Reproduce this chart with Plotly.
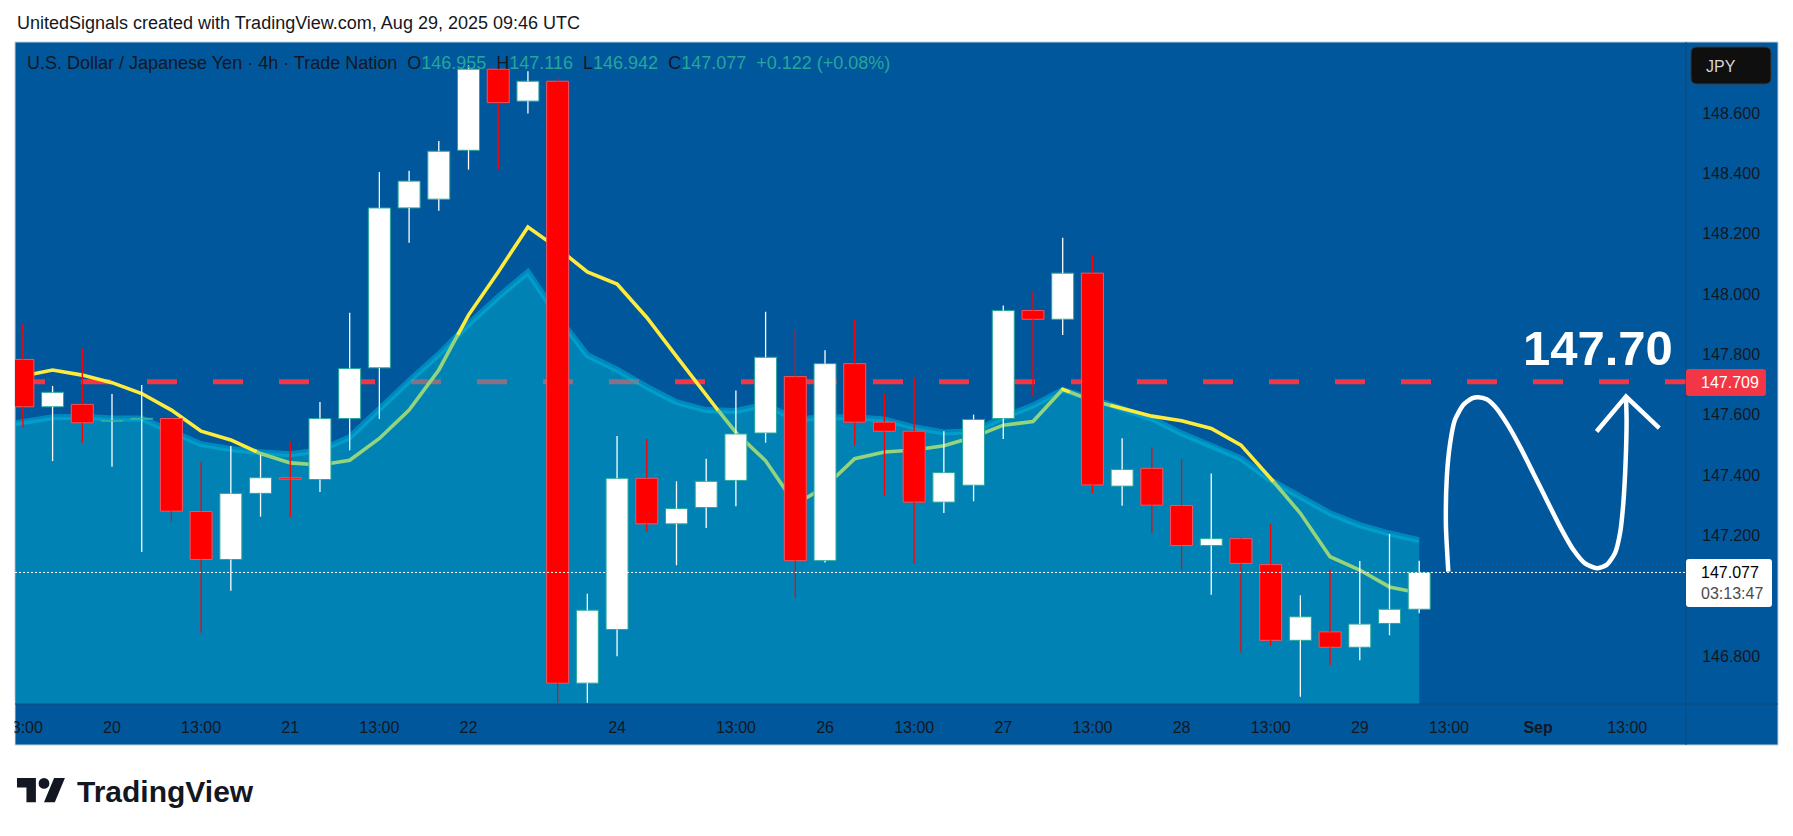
import plotly.graph_objects as go

# ---------------------------------------------------------------- data
# bar index: 0 = Aug 20 01:00 UTC (4h bars, weekend gap Aug 22 17:00 -> Aug 24 21:00)
FIRST_BAR = -3
OPEN = [147.783, 147.626, 147.634, 147.578, 147.585, 147.587, 147.279, 147.120, 147.339, 147.391,
        147.385, 147.587, 147.755, 148.285, 148.314, 148.476, 148.745, 148.639, 148.705, 146.710,
        146.888, 147.389, 147.238, 147.292, 147.382, 147.539, 147.726, 147.116, 147.769, 147.575,
        147.545, 147.310, 147.366, 147.587, 147.945, 147.916, 148.069, 147.363, 147.422, 147.299,
        147.166, 147.189, 147.103, 146.852, 146.880, 146.829, 146.908, 146.955]
HIGH = [147.900, 147.695, 147.819, 147.668, 147.698, 147.595, 147.443, 147.496, 147.466, 147.509,
        147.642, 147.938, 148.404, 148.408, 148.507, 148.758, 148.778, 148.738, 148.719, 147.006,
        147.529, 147.519, 147.379, 147.454, 147.680, 147.941, 147.882, 147.813, 147.915, 147.670,
        147.723, 147.545, 147.600, 147.962, 148.008, 148.186, 148.130, 147.522, 147.492, 147.453,
        147.405, 147.192, 147.237, 147.001, 147.087, 147.115, 147.204, 147.116]
LOW = [147.557, 147.446, 147.507, 147.427, 147.145, 147.245, 146.877, 147.016, 147.262, 147.260,
       147.344, 147.482, 147.586, 148.170, 148.276, 148.412, 148.412, 148.598, 146.645, 146.645,
       146.799, 147.212, 147.101, 147.224, 147.296, 147.507, 146.993, 147.110, 147.499, 147.332,
       147.106, 147.274, 147.313, 147.519, 147.660, 147.864, 147.340, 147.298, 147.208, 147.087,
       147.003, 146.812, 146.835, 146.665, 146.770, 146.786, 146.869, 146.942]
CLOSE = [147.626, 147.674, 147.573, 147.581, 147.588, 147.280, 147.120, 147.339, 147.391, 147.386,
         147.587, 147.753, 148.285, 148.374, 148.473, 148.745, 148.634, 148.705, 146.710, 146.952,
         147.389, 147.238, 147.289, 147.379, 147.536, 147.790, 147.116, 147.769, 147.575, 147.545,
         147.310, 147.408, 147.584, 147.945, 147.916, 148.069, 147.367, 147.418, 147.300, 147.166,
         147.189, 147.107, 146.852, 146.930, 146.829, 146.906, 146.955, 147.077]

LINE_START = -4
BAND_LINE = [147.560, 147.578, 147.591, 147.593, 147.587, 147.587, 147.543, 147.502, 147.486, 147.475,
             147.469, 147.482, 147.525, 147.620, 147.712, 147.800, 147.900, 147.990, 148.073, 147.925,
             147.797, 147.749, 147.692, 147.641, 147.615, 147.612, 147.634, 147.584, 147.591, 147.591,
             147.584, 147.558, 147.541, 147.545, 147.591, 147.630, 147.682, 147.652, 147.617, 147.587,
             147.538, 147.499, 147.455, 147.383, 147.328, 147.273, 147.234, 147.206, 147.184]
EMA_LINE = [147.700, 147.728, 147.748, 147.731, 147.706, 147.670, 147.615, 147.545, 147.516, 147.471,
            147.440, 147.433, 147.449, 147.521, 147.615, 147.748, 147.930, 148.073, 148.222, 148.152,
            148.073, 148.033, 147.922, 147.793, 147.663, 147.541, 147.447, 147.303, 147.361, 147.454,
            147.476, 147.483, 147.497, 147.526, 147.565, 147.577, 147.684, 147.646, 147.621, 147.595,
            147.580, 147.554, 147.499, 147.389, 147.273, 147.129, 147.085, 147.029, 147.009]

X_TICK_POS = [-3, 0, 3, 6, 9, 12, 17, 21, 24, 27, 30, 33, 36, 39, 42, 45, 48, 51]
X_TICK_TEXT = ["13:00", "20", "13:00", "21", "13:00", "22", "24", "13:00", "26", "13:00",
               "27", "13:00", "28", "13:00", "29", "13:00", "<b>Sep</b>", "13:00"]
Y_TICKS = [146.8, 147.2, 147.4, 147.6, 147.8, 148.0, 148.2, 148.4, 148.6]

TARGET = 147.709
TARGET_TEXT = "147.70"
COUNTDOWN = "03:13:47"
SYMBOL = "U.S. Dollar / Japanese Yen · 4h · Trade Nation"
HEADER = "UnitedSignals created with TradingView.com, Aug 29, 2025 09:46 UTC"

# hand-drawn path (bar index, price)
DRAW_X = [44.98, 44.90, 44.93, 45.04, 45.20, 45.48, 45.77, 45.99, 46.27, 46.55, 46.95, 47.39, 47.84,
          48.29, 48.74, 49.19, 49.58, 49.98, 50.31, 50.59, 50.76, 50.87, 50.95, 50.98, 50.96]
DRAW_Y = [147.080, 147.229, 147.395, 147.505, 147.582, 147.632, 147.654, 147.658, 147.651, 147.627,
          147.571, 147.494, 147.406, 147.317, 147.229, 147.152, 147.107, 147.091, 147.102, 147.141,
          147.207, 147.306, 147.450, 147.582, 147.660]
ARROW_X = [49.97, 50.96, 52.08]
ARROW_Y = [147.544, 147.660, 147.555]

# ---------------------------------------------------------------- style / geometry
W, H = 1793, 836
PL, PR, PT, PB = 15, 1686, 42, 704
X_RANGE = [-3.265, 52.98]
Y_RANGE = [146.641, 148.835]
BG = "#01579B"
FONT = "Liberation Sans, Arial, sans-serif"
TXT = "#131722"
TEAL = "#26A69A"
UP_BODY, UP_EDGE, UP_WICK = "#FFFFFF", "#26A69A", "#FFFFFF"
DN_BODY, DN_EDGE, DN_WICK = "#FF0000", "#F7525F", "#FF0000"
YELLOW, GREEN = "#FFEB3B", "#93D47C"


def px(x):
    return (x - PL) / (PR - PL)


def py(y):
    return (PB - y) / (PB - PT)


def P(x, y):
    return f"{px(x):.6f},{py(y):.6f}"


def rrect(x0, y0, x1, y1, r):
    return (f"M{P(x0 + r, y0)} L{P(x1 - r, y0)} Q{P(x1, y0)} {P(x1, y0 + r)} "
            f"L{P(x1, y1 - r)} Q{P(x1, y1)} {P(x1 - r, y1)} L{P(x0 + r, y1)} "
            f"Q{P(x0, y1)} {P(x0, y1 - r)} L{P(x0, y0 + r)} Q{P(x0, y0)} {P(x0 + r, y0)} Z")


fig = go.Figure()

line_x = list(range(LINE_START, LINE_START + len(BAND_LINE)))

# shaded band
fig.add_trace(go.Scatter(x=line_x, y=BAND_LINE, mode="lines", line=dict(width=0, color="rgba(0,0,0,0)"),
                         fill="tozeroy", fillcolor="rgba(0,188,212,0.44)", hoverinfo="skip"))
fig.add_trace(go.Scatter(x=line_x, y=BAND_LINE, mode="lines",
                         line=dict(color="rgba(0,185,225,0.5)", width=6), hoverinfo="skip"))

# yellow / green line: yellow where above the band line, green where below
runs = []
cur_c = None
cur = []
for i in range(len(EMA_LINE) - 1):
    d0 = EMA_LINE[i] - BAND_LINE[i]
    d1 = EMA_LINE[i + 1] - BAND_LINE[i + 1]
    p0 = (line_x[i], EMA_LINE[i])
    p1 = (line_x[i + 1], EMA_LINE[i + 1])
    c0 = YELLOW if d0 >= 0 else GREEN
    if cur_c is None:
        cur_c, cur = c0, [p0]
    if (d0 >= 0) != (d1 >= 0):
        t = d0 / (d0 - d1)
        sp = (p0[0] + t * (p1[0] - p0[0]), p0[1] + t * (p1[1] - p0[1]))
        cur.append(sp)
        runs.append((cur_c, cur))
        cur_c = YELLOW if d1 >= 0 else GREEN
        cur = [sp, p1]
    else:
        cur.append(p1)
runs.append((cur_c, cur))
for col, pts in runs:
    fig.add_trace(go.Scatter(x=[p[0] for p in pts], y=[p[1] for p in pts], mode="lines",
                             line=dict(color=col, width=3.6), hoverinfo="skip"))

# hand drawing
fig.add_trace(go.Scatter(x=DRAW_X, y=DRAW_Y, mode="lines", line=dict(color="white", width=4.5, shape="spline",
                                                                   smoothing=0.6), hoverinfo="skip"))
fig.add_trace(go.Scatter(x=ARROW_X, y=ARROW_Y, mode="lines", line=dict(color="white", width=4.5), hoverinfo="skip"))

# candles (overlay axes so they sit above the band)
bars = list(range(FIRST_BAR, FIRST_BAR + len(OPEN)))
up = [i for i in range(len(OPEN)) if CLOSE[i] >= OPEN[i]]
dn = [i for i in range(len(OPEN)) if CLOSE[i] < OPEN[i]]


def wick_xy(idx):
    xs, ys = [], []
    for i in idx:
        top, bot = max(OPEN[i], CLOSE[i]), min(OPEN[i], CLOSE[i])
        xs += [bars[i], bars[i], None, bars[i], bars[i], None]
        ys += [HIGH[i], top, None, bot, LOW[i], None]
    return xs, ys


for idx, wc in ((up, UP_WICK), (dn, DN_WICK)):
    wx, wy = wick_xy(idx)
    fig.add_trace(go.Scatter(x=wx, y=wy, mode="lines", line=dict(color=wc, width=1.3),
                             xaxis="x2", yaxis="y2", hoverinfo="skip"))
for idx, bc, ec in ((up, UP_BODY, UP_EDGE), (dn, DN_BODY, DN_EDGE)):
    fig.add_trace(go.Bar(x=[bars[i] for i in idx],
                         y=[max(abs(CLOSE[i] - OPEN[i]), 0.003) for i in idx],
                         base=[min(OPEN[i], CLOSE[i]) for i in idx],
                         width=0.74, marker=dict(color=bc, line=dict(color=ec, width=1)),
                         xaxis="x2", yaxis="y2", hoverinfo="skip"))

last_o, last_h, last_l, last_c = OPEN[-1], HIGH[-1], LOW[-1], CLOSE[-1]
chg = last_c - CLOSE[-2]
chg_pct = chg / CLOSE[-2] * 100

shapes = [
    dict(type="rect", xref="paper", yref="paper", x0=px(15), x1=px(1778), y0=py(42), y1=py(745),
         fillcolor=BG, line=dict(color="#c3cfdb", width=1), layer="below"),
    dict(type="line", xref="x", yref="y", x0=X_RANGE[0], x1=X_RANGE[1], y0=TARGET, y1=TARGET,
         line=dict(color="#F23645", width=5, dash="30px,36px"), layer="below"),
    dict(type="line", xref="paper", yref="paper", x0=px(1686), x1=px(1686), y0=py(42), y1=py(745),
         line=dict(color="#0a4c85", width=1), layer="above"),
    dict(type="line", xref="paper", yref="paper", x0=px(15), x1=px(1778), y0=py(704), y1=py(704),
         line=dict(color="#0a4c85", width=1), layer="above"),
    dict(type="line", xref="x", yref="y", x0=X_RANGE[0], x1=X_RANGE[1], y0=last_c, y1=last_c,
         line=dict(color="white", width=1, dash="2px,2px"), layer="above"),
    dict(type="path", xref="paper", yref="paper", path=rrect(1686, 369, 1766, 396, 3),
         fillcolor="#F23645", line=dict(width=0), layer="above"),
    dict(type="path", xref="paper", yref="paper", path=rrect(1686, 559, 1772, 607, 3),
         fillcolor="white", line=dict(width=0), layer="above"),
    dict(type="path", xref="paper", yref="paper", path=rrect(1691, 47, 1771, 84, 6),
         fillcolor="#0f0f0f", line=dict(color="#3a3a3a", width=1), layer="above"),
    dict(type="rect", xref="paper", yref="paper", x0=px(0), x1=px(14.5), y0=py(700), y1=py(750),
         fillcolor="white", line=dict(width=0), layer="above"),
]

# TradingView logo
S = 1.35


def L(ux, uy):
    return P(17 + ux * S, 778 + (uy - 4) * S)


logo1 = f"M{L(0,4)} L{L(14,4)} L{L(14,22)} L{L(7,22)} L{L(7,11)} L{L(0,11)} Z"
logo2 = f"M{L(20,22)} L{L(27.5,4)} L{L(35.5,4)} L{L(28,22)} Z"
shapes += [
    dict(type="path", xref="paper", yref="paper", path=logo1, fillcolor="#131722", line=dict(width=0)),
    dict(type="path", xref="paper", yref="paper", path=logo2, fillcolor="#131722", line=dict(width=0)),
    dict(type="circle", xref="paper", yref="paper", x0=px(17 + 16 * S), x1=px(17 + 24 * S),
         y0=py(778 + 0 * S), y1=py(778 + 8 * S), fillcolor="#131722", line=dict(width=0)),
]

sp2 = "\u00a0\u00a0"
legend_txt = (f"{SYMBOL}{sp2}O<span style='color:{TEAL}'>{last_o:.3f}</span>{sp2}"
              f"H<span style='color:{TEAL}'>{last_h:.3f}</span>{sp2}"
              f"L<span style='color:{TEAL}'>{last_l:.3f}</span>{sp2}"
              f"C<span style='color:{TEAL}'>{last_c:.3f}</span>{sp2}"
              f"<span style='color:{TEAL}'>{chg:+.3f} ({chg_pct:+.2f}%)</span>")

ann = [
    dict(text=HEADER, x=px(15), y=py(23), xanchor="left", yanchor="middle",
         font=dict(family=FONT, size=18, color=TXT)),
    dict(text=legend_txt, x=px(25), y=py(63), xanchor="left", yanchor="middle",
         font=dict(family=FONT, size=18, color=TXT)),
    dict(text=TARGET_TEXT, x=px(1598), y=py(348), xanchor="center", yanchor="middle",
         font=dict(family=FONT, size=49, color="white", weight="bold")),
    dict(text=f"{TARGET:.3f}", x=px(1699), y=py(382.5), xanchor="left", yanchor="middle",
         font=dict(family=FONT, size=16, color="white")),
    dict(text=f"{last_c:.3f}", x=px(1699), y=py(572), xanchor="left", yanchor="middle",
         font=dict(family=FONT, size=16, color="#000000")),
    dict(text=COUNTDOWN, x=px(1699), y=py(593), xanchor="left", yanchor="middle",
         font=dict(family=FONT, size=16, color="#4a4a4a")),
    dict(text="JPY", x=px(1721), y=py(66), xanchor="center", yanchor="middle",
         font=dict(family=FONT, size=16, color="#d6d6d6")),
    dict(text="<b>TradingView</b>", x=px(75), y=py(791), xanchor="left", yanchor="middle",
         font=dict(family=FONT, size=30, color="#131722")),
]
for a in ann:
    a.update(xref="paper", yref="paper", showarrow=False)

tickfont = dict(family=FONT, size=16, color=TXT)
fig.update_layout(
    width=W, height=H, margin=dict(l=PL, r=W - PR, t=PT, b=H - PB, pad=0, autoexpand=False),
    paper_bgcolor="white", plot_bgcolor="rgba(0,0,0,0)", showlegend=False,
    barmode="overlay", hovermode=False, shapes=shapes, annotations=ann,
    xaxis=dict(range=X_RANGE, tickmode="array", tickvals=X_TICK_POS, ticktext=X_TICK_TEXT,
               showgrid=False, zeroline=False, showline=False, ticks="outside", ticklen=9,
               tickcolor="rgba(0,0,0,0)", tickfont=tickfont, fixedrange=True, automargin=False),
    yaxis=dict(range=Y_RANGE, side="right", tickmode="array", tickvals=Y_TICKS,
               ticktext=[f"{v:.3f}" for v in Y_TICKS], showgrid=False, zeroline=False,
               showline=False, ticks="outside", ticklen=12, tickcolor="rgba(0,0,0,0)",
               tickfont=tickfont, fixedrange=True, automargin=False),
    xaxis2=dict(range=X_RANGE, overlaying="x", visible=False, fixedrange=True),
    yaxis2=dict(range=Y_RANGE, overlaying="y", visible=False, fixedrange=True),
)

fig.write_html("out.html", config={"displayModeBar": False},
               post_script="document.body.style.margin='0px';")
